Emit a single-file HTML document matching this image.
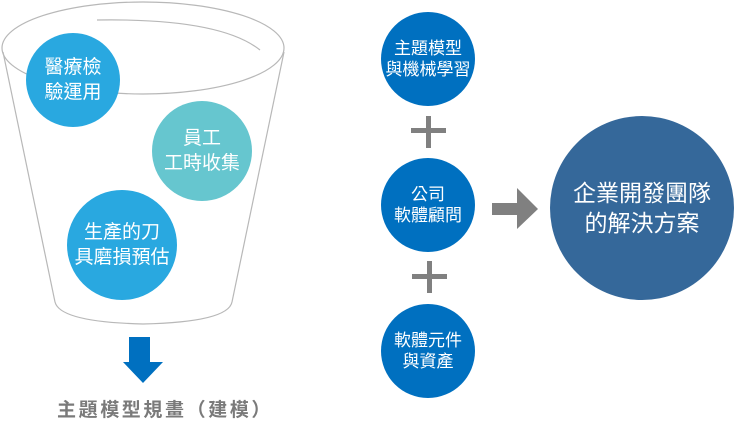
<!DOCTYPE html>
<html><head><meta charset="utf-8"><style>
body{margin:0;width:735px;height:447px;background:#fff;overflow:hidden;position:relative;font-family:"Liberation Sans","Noto Sans CJK TC",sans-serif}
.c{position:absolute;border-radius:50%;color:#fff;display:flex;align-items:center;justify-content:center;text-align:center;white-space:nowrap}
</style></head><body>
<svg width="735" height="447" style="position:absolute;left:0;top:0">
<g fill="none" stroke="#b8b8b8" stroke-width="1.2">
<ellipse cx="143" cy="48" rx="141" ry="46"/>
<path d="M97 20 Q220 18 260 50"/>
<path d="M3 52 L55 302"/>
<path d="M284 52 L232 302"/>
<path d="M55 302 Q60 322 143 324 Q228 322 232 302"/>
</g>
<polygon points="129,337 150,337 150,362 163,362 143,383 123,362 129,362" fill="#0070c0"/>
<g fill="#808080">
<rect x="411" y="128" width="35" height="5"/><rect x="426" y="116" width="5" height="32"/>
<rect x="412" y="274" width="35" height="5"/><rect x="427" y="261" width="5" height="32"/>
<polygon points="492,203 517,203 517,188 538,209 517,229 517,215 492,215"/>
</g>
</svg>
<div class="c" style="left:26px;top:33px;width:94px;height:94px;background:#29a8e0;font-size:19px;line-height:25px">醫療檢<br>驗運用</div>
<div class="c" style="left:152px;top:101px;width:100px;height:100px;background:#66c6cf;font-size:19px;line-height:25px">員工<br>工時收集</div>
<div class="c" style="left:67px;top:190px;width:110px;height:110px;background:#29a8e0;font-size:19px;line-height:25px">生產的刀<br>具磨損預估</div>
<div style="position:absolute;left:57px;top:395px;width:260px;font-size:19px;color:#7a7a7a;letter-spacing:2.6px;font-weight:bold;white-space:nowrap">主題模型規畫（建模）</div>
<div class="c" style="left:381px;top:12px;width:94px;height:94px;background:#0070c0;font-size:17px;line-height:21px">主題模型<br>與機械學習</div>
<div class="c" style="left:381px;top:158px;width:94px;height:94px;background:#0070c0;font-size:17px;line-height:21px">公司<br>軟體顧問</div>
<div class="c" style="left:381px;top:304px;width:94px;height:94px;background:#0070c0;font-size:17px;line-height:21px">軟體元件<br>與資產</div>
<div class="c" style="left:550px;top:116px;width:184px;height:184px;background:#35689a;font-size:23px;line-height:30px">企業開發團隊<br>的解決方案</div>
</body></html>
